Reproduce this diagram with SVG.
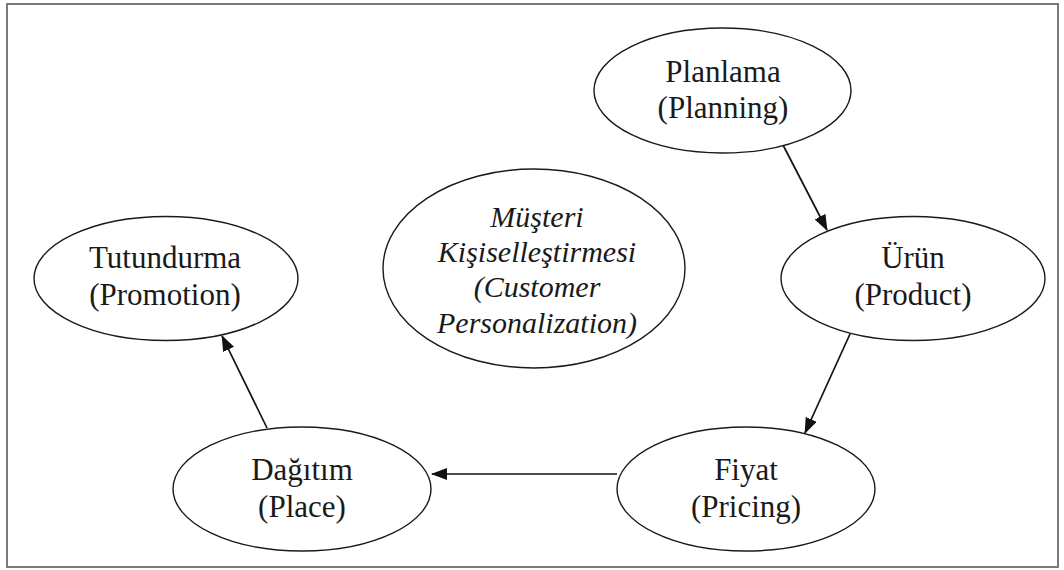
<svg xmlns="http://www.w3.org/2000/svg" width="1064" height="570" viewBox="0 0 1064 570">
  <style>
    .node ellipse { fill: #ffffff; stroke: #1a1a1a; stroke-width: 1.4; }
    .node text { font-family: "Liberation Serif", "Times New Roman", serif; font-size: 31px; fill: #1a1a1a; text-anchor: middle; }
    .node text.it { font-style: italic; font-size: 30px; }
    .edge { stroke: #111111; stroke-width: 1.7; fill: none; marker-end: url(#head); }
  </style>
  <defs>
    <marker id="head" viewBox="0 0 16 12" refX="15" refY="6" markerWidth="16" markerHeight="12" markerUnits="userSpaceOnUse" orient="auto">
      <path d="M0,0 L16,6 L0,12 Z" fill="#111111"/>
    </marker>
  </defs>

  <rect x="0" y="0" width="1064" height="570" fill="#ffffff"/>
  <rect x="7" y="4" width="1051" height="563" fill="none" stroke="#7a7a7a" stroke-width="2"/>

  <g id="connectors">
    <line class="edge" x1="783" y1="145" x2="827" y2="230"/>
    <line class="edge" x1="850" y1="334" x2="805" y2="433"/>
    <line class="edge" x1="617" y1="474" x2="432" y2="474"/>
    <line class="edge" x1="267" y1="428" x2="222" y2="336"/>
  </g>

  <g id="planlama" class="node">
    <ellipse cx="722.5" cy="90.5" rx="128.5" ry="62.5"/>
    <text x="723" y="82">Planlama</text>
    <text x="723" y="118">(Planning)</text>
  </g>

  <g id="urun" class="node">
    <ellipse cx="913" cy="278.5" rx="132" ry="62"/>
    <text x="913" y="268">Ürün</text>
    <text x="913" y="305">(Product)</text>
  </g>

  <g id="fiyat" class="node">
    <ellipse cx="746" cy="489" rx="129" ry="62"/>
    <text x="746" y="480">Fiyat</text>
    <text x="746" y="517">(Pricing)</text>
  </g>

  <g id="dagitim" class="node">
    <ellipse cx="302" cy="489" rx="129" ry="62"/>
    <text x="302" y="480">Dağıtım</text>
    <text x="302" y="517">(Place)</text>
  </g>

  <g id="tutundurma" class="node">
    <ellipse cx="166" cy="278.5" rx="132" ry="62"/>
    <text x="165" y="268">Tutundurma</text>
    <text x="165" y="305">(Promotion)</text>
  </g>

  <g id="musteri" class="node">
    <ellipse cx="534" cy="268.5" rx="151" ry="99.5"/>
    <text class="it" x="537" y="227">Müşteri</text>
    <text class="it" x="537" y="262">Kişiselleştirmesi</text>
    <text class="it" x="537" y="297">(Customer</text>
    <text class="it" x="537" y="333">Personalization)</text>
  </g>
</svg>
